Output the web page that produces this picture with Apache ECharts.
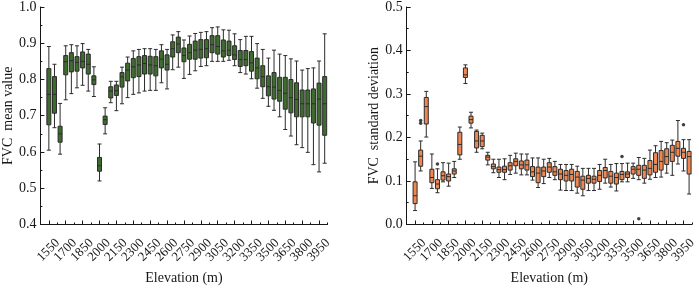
<!DOCTYPE html>
<html>
<head>
<meta charset="utf-8">
<script src="https://cdn.jsdelivr.net/npm/echarts@6/dist/echarts.min.js"></script>
<style>
html, body { margin: 0; padding: 0; background: #fff; }
#main { width: 699px; height: 290px; }
</style>
</head>
<body>
<div id="main"></div>
<script>
/* elevation bands (m) */
var elevations = ['1550', '1600', '1650', '1700', '1750', '1800', '1850', '1900', '1950', '2000',
    '2050', '2100', '2150', '2200', '2250', '2300', '2350', '2400', '2450', '2500',
    '2550', '2600', '2650', '2700', '2750', '2800', '2850', '2900', '2950', '3000',
    '3050', '3100', '3150', '3200', '3250', '3300', '3350', '3400', '3450', '3500',
    '3550', '3600', '3650', '3700', '3750', '3800', '3850', '3900', '3950', '4000']

/* FVC mean value: [min, Q1, median, Q3, max] */
var meanBox = [
    [0.605, 0.675, 0.759, 0.830, 0.891], [0.667, 0.707, 0.759, 0.808, 0.842],
    [0.594, 0.627, 0.650, 0.671, 0.734], [0.744, 0.813, 0.849, 0.866, 0.893],
    [0.761, 0.821, 0.852, 0.874, 0.896], [0.777, 0.823, 0.847, 0.863, 0.893],
    [0.784, 0.832, 0.850, 0.876, 0.899], [0.768, 0.815, 0.842, 0.870, 0.883],
    [0.753, 0.786, 0.799, 0.810, 0.835], [0.520, 0.547, 0.562, 0.585, 0.622],
    [0.650, 0.676, 0.689, 0.699, 0.722], [0.736, 0.749, 0.768, 0.780, 0.795],
    [0.714, 0.756, 0.769, 0.785, 0.795], [0.733, 0.779, 0.807, 0.819, 0.834],
    [0.750, 0.796, 0.826, 0.845, 0.862], [0.759, 0.805, 0.835, 0.858, 0.879],
    [0.763, 0.808, 0.840, 0.863, 0.883], [0.768, 0.815, 0.844, 0.866, 0.885],
    [0.770, 0.815, 0.840, 0.864, 0.885], [0.770, 0.810, 0.838, 0.863, 0.883],
    [0.791, 0.832, 0.856, 0.879, 0.896], [0.774, 0.826, 0.842, 0.868, 0.883],
    [0.827, 0.862, 0.885, 0.904, 0.923], [0.834, 0.874, 0.898, 0.917, 0.932],
    [0.803, 0.849, 0.866, 0.887, 0.909], [0.814, 0.856, 0.874, 0.897, 0.920],
    [0.824, 0.856, 0.881, 0.906, 0.927], [0.836, 0.859, 0.883, 0.910, 0.930],
    [0.838, 0.860, 0.885, 0.910, 0.932], [0.850, 0.874, 0.896, 0.921, 0.943],
    [0.850, 0.870, 0.891, 0.921, 0.945], [0.850, 0.862, 0.879, 0.909, 0.937],
    [0.853, 0.866, 0.881, 0.906, 0.936], [0.838, 0.855, 0.868, 0.893, 0.926],
    [0.819, 0.836, 0.855, 0.880, 0.910], [0.815, 0.838, 0.855, 0.880, 0.919],
    [0.802, 0.823, 0.846, 0.877, 0.919], [0.776, 0.802, 0.832, 0.859, 0.899],
    [0.748, 0.780, 0.808, 0.838, 0.883], [0.726, 0.755, 0.780, 0.810, 0.859],
    [0.715, 0.746, 0.779, 0.819, 0.881], [0.697, 0.740, 0.770, 0.806, 0.870],
    [0.662, 0.718, 0.762, 0.806, 0.866], [0.644, 0.708, 0.750, 0.800, 0.857],
    [0.620, 0.697, 0.745, 0.791, 0.851], [0.612, 0.697, 0.733, 0.771, 0.826],
    [0.599, 0.697, 0.733, 0.771, 0.830], [0.565, 0.680, 0.733, 0.774, 0.832],
    [0.545, 0.674, 0.746, 0.790, 0.851], [0.569, 0.646, 0.733, 0.808, 0.926]
]

/* FVC standard deviation: [min, Q1, median, Q3, max] */
var sdBox = [
    [0.032, 0.048, 0.066, 0.098, 0.144], [0.123, 0.134, 0.157, 0.171, 0.192],
    [0.201, 0.231, 0.271, 0.292, 0.306], [0.083, 0.096, 0.108, 0.127, 0.162],
    [0.073, 0.082, 0.093, 0.103, 0.128], [0.098, 0.102, 0.112, 0.121, 0.142],
    [0.088, 0.100, 0.110, 0.116, 0.141], [0.108, 0.116, 0.123, 0.128, 0.145],
    [0.150, 0.160, 0.184, 0.212, 0.224], [0.324, 0.338, 0.344, 0.360, 0.367],
    [0.222, 0.233, 0.241, 0.249, 0.258], [0.166, 0.176, 0.192, 0.214, 0.217],
    [0.174, 0.179, 0.192, 0.205, 0.210], [0.137, 0.148, 0.155, 0.159, 0.166],
    [0.119, 0.128, 0.133, 0.139, 0.150], [0.108, 0.120, 0.126, 0.132, 0.150],
    [0.103, 0.120, 0.126, 0.134, 0.151], [0.115, 0.125, 0.135, 0.142, 0.159],
    [0.118, 0.135, 0.145, 0.151, 0.164], [0.114, 0.128, 0.137, 0.146, 0.162],
    [0.114, 0.125, 0.137, 0.148, 0.162], [0.102, 0.110, 0.121, 0.133, 0.153],
    [0.085, 0.096, 0.118, 0.132, 0.153], [0.094, 0.110, 0.123, 0.132, 0.150],
    [0.108, 0.120, 0.132, 0.142, 0.152], [0.103, 0.113, 0.121, 0.133, 0.145],
    [0.079, 0.103, 0.116, 0.127, 0.138], [0.078, 0.100, 0.113, 0.124, 0.138],
    [0.078, 0.100, 0.115, 0.127, 0.138], [0.072, 0.086, 0.109, 0.122, 0.134],
    [0.066, 0.081, 0.102, 0.111, 0.129], [0.078, 0.095, 0.106, 0.113, 0.129],
    [0.078, 0.095, 0.104, 0.111, 0.129], [0.081, 0.099, 0.113, 0.124, 0.138],
    [0.095, 0.107, 0.124, 0.131, 0.150], [0.086, 0.095, 0.111, 0.122, 0.138],
    [0.077, 0.093, 0.108, 0.118, 0.140], [0.098, 0.103, 0.115, 0.122, 0.140],
    [0.098, 0.108, 0.116, 0.121, 0.141], [0.106, 0.116, 0.127, 0.133, 0.141],
    [0.103, 0.113, 0.127, 0.136, 0.154], [0.095, 0.106, 0.125, 0.136, 0.152],
    [0.104, 0.114, 0.129, 0.147, 0.171], [0.108, 0.120, 0.138, 0.165, 0.181],
    [0.109, 0.125, 0.145, 0.170, 0.191], [0.118, 0.138, 0.156, 0.174, 0.188],
    [0.113, 0.145, 0.166, 0.182, 0.194], [0.139, 0.157, 0.175, 0.191, 0.239],
    [0.123, 0.152, 0.166, 0.175, 0.195], [0.070, 0.116, 0.156, 0.168, 0.195]
]

/* outliers of the standard deviation panel: [elevation, value] */
var sdOutliers = [['1600', 0.239], ['1600', 0.233], ['1750', 0.139],
    ['3400', 0.156], ['3550', 0.013], ['3950', 0.229]]

var font = 'Liberation Serif'
var ink = '#161616'
// one empty slot before 1550 so the first box sits off the y axis
var slots = elevations.length + 1

function tickShown (index) {
    return index >= 1 && (index - 1) % 3 === 0 && index < elevations.length
}

// the blank first slot and the unlabelled last band act as empty end labels,
// so ECharts does not drop 1550/1700 or 3800/3950 for overlapping
function labelShown (index) {
    return index === 0 || index === elevations.length || tickShown(index)
}

function boxSeries (data) {
    var out = []
    for (var i = 0; i < data.length; i++) {
        out.push([i + 1.5].concat(data[i]))
    }
    return out
}

function xAxes (g) {
    return [{
        // frame line + short ticks between labels
        type: 'value',
        gridIndex: g,
        position: 'bottom',
        min: 0,
        max: slots,
        interval: 3,
        axisLine: { show: true, onZero: false, lineStyle: { color: ink, width: 1 } },
        axisTick: { show: true, inside: true, length: 2, lineStyle: { color: ink } },
        axisLabel: { show: false },
        splitLine: { show: false }
    }, {
        type: 'category',
        gridIndex: g,
        position: 'bottom',
        data: [''].concat(elevations),
        boundaryGap: true,
        axisLine: { show: false },
        axisTick: { show: true, inside: true, length: 4, alignWithLabel: true, interval: tickShown, lineStyle: { color: ink } },
        axisLabel: {
            interval: labelShown,
            hideOverlap: false,
            rotate: 45,
            fontFamily: font,
            fontSize: 13,
            lineHeight: 9,
            color: ink,
            margin: 19,
            verticalAlign: 'top',
            align: 'right',
            padding: [0, -8, 0, 0],
            formatter: function (v) { return v === elevations[elevations.length - 1] ? '' : v }
        },
        name: 'Elevation (m)',
        nameLocation: 'middle',
        nameGap: 36,
        nameTextStyle: { fontFamily: font, fontSize: 14, color: ink }
    }]
}

function yAxis (g, min, max, name) {
    return {
        type: 'value',
        gridIndex: g,
        min: min,
        max: max,
        interval: 0.1,
        axisLine: { show: true, onZero: false, lineStyle: { color: ink, width: 1 } },
        axisTick: { show: true, inside: true, length: 4, lineStyle: { color: ink } },
        minorTick: { show: true, splitNumber: 2, length: 2, lineStyle: { color: ink } },
        splitLine: { show: false },
        axisLabel: {
            fontFamily: font,
            fontSize: 14,
            color: ink,
            margin: 4,
            formatter: function (v) { return v.toFixed(1) }
        },
        name: name,
        nameLocation: 'middle',
        nameGap: 24,
        nameTextStyle: { fontFamily: font, fontSize: 14, color: ink }
    }
}

var myChart = echarts.init(document.getElementById('main'))

var option = {
    animation: false,
    grid: [
        { left: 37, top: 6, width: 290.5, height: 233.3 },
        { left: 406.7, top: 6, width: 290.5, height: 233.3 }
    ],
    xAxis: xAxes(0).concat(xAxes(1)),
    yAxis: [
        yAxis(0, 0.4, 1.0, 'FVC  mean value'),
        yAxis(1, 0, 0.5, 'FVC  standard deviation')
    ],
    series: [{
        type: 'boxplot',
        xAxisIndex: 0,
        yAxisIndex: 0,
        boxWidth: [4, 4],
        data: boxSeries(meanBox),
        itemStyle: { color: '#3e6b2e', borderColor: '#2b2b2b', borderWidth: 1 }
    }, {
        type: 'boxplot',
        xAxisIndex: 2,
        yAxisIndex: 1,
        boxWidth: [4, 4],
        data: boxSeries(sdBox),
        itemStyle: { color: '#ef8750', borderColor: '#2b2b2b', borderWidth: 1 }
    }, {
        type: 'scatter',
        xAxisIndex: 2,
        yAxisIndex: 1,
        symbolSize: 3.5,
        data: sdOutliers.map(function (o) {
            return [elevations.indexOf(o[0]) + 1.5, o[1]]
        }),
        itemStyle: { color: '#111' }
    }]
}

myChart.setOption(option)
</script>
</body>
</html>
